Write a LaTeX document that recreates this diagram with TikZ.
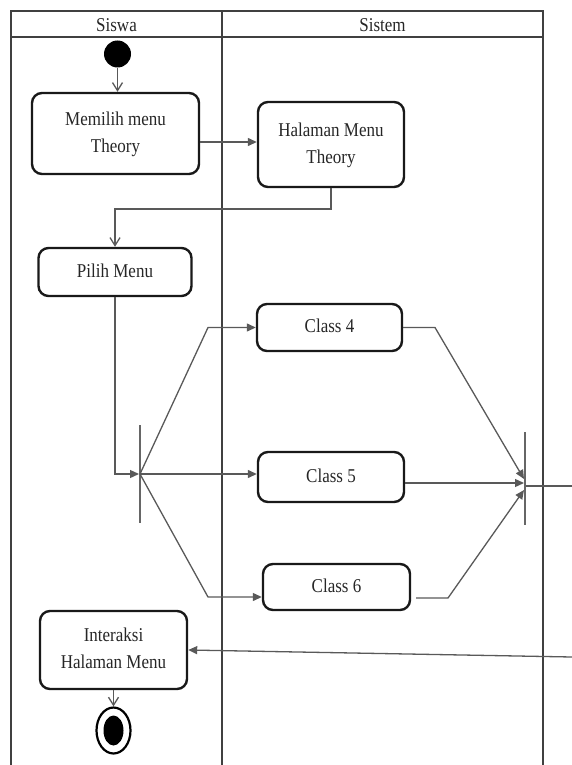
\documentclass[tikz,border=0pt]{standalone}
\usepackage{fontspec}
\setmainfont{Liberation Serif}
\usepackage{graphicx}
\usetikzlibrary{arrows.meta,shapes.geometric,calc}
\newcommand\boxtext[1]{\scalebox{1}[1.15]{\begin{tabular}{@{}c@{}}#1\end{tabular}}}
\begin{document}
\begin{tikzpicture}[x=1pt,y=-1pt,
 act/.style={draw=black!90, line width=2.4pt, rounded corners=10pt, inner sep=0pt,
   font=\fontsize{17}{23.5}\selectfont, text=black!85},
 lane/.style={draw=black!75, line width=1.1pt},
 conn/.style={draw=black!65, line width=1.3pt},
 farr/.style={conn, -{Triangle[length=9pt,width=8pt]}},
 oarr/.style={conn, -{Straight Barb[length=8pt,width=10pt]}},
 bar/.style={fill=black!60, inner sep=0pt, minimum width=1.6pt},
 hdr/.style={font=\fontsize{17}{20}\selectfont, text=black!85, inner sep=0pt, anchor=base}]
\useasboundingbox (0,0) rectangle (572,765);
% swimlanes
\draw[lane] (11,765) -- (11,11) -- (543,11) -- (543,765);
\draw[lane] (11,37) -- (543,37);
\draw[lane] (222,11) -- (222,765);
\node[hdr] (h1) at (116.5,32) {\scalebox{1}[1.15]{Siswa}};
\node[hdr] (h2) at (382.5,32) {\scalebox{1}[1.15]{Sistem}};
% nodes
\node[circle, fill=black, minimum size=27pt, inner sep=0pt] (start) at (117.5,54) {};
\node[act, minimum width=167pt, minimum height=81pt] (mem) at (115.5,133.5) {\boxtext{Memilih menu\\Theory}};
\node[act, minimum width=146pt, minimum height=85pt] (hal) at (331,144.5) {\boxtext{Halaman Menu\\Theory}};
\node[act, minimum width=153pt, minimum height=48pt] (pil) at (115,272) {\boxtext{Pilih Menu}};
\node[bar, minimum height=98pt] (fork) at (140,474) {};
\node[act, minimum width=145pt, minimum height=47pt] (c4) at (329.5,327.5) {\boxtext{Class 4}};
\node[act, minimum width=146pt, minimum height=50pt] (c5) at (331,477) {\boxtext{Class 5}};
\node[act, minimum width=147pt, minimum height=46pt] (c6) at (336.5,587) {\boxtext{Class 6}};
\node[bar, minimum height=93pt] (join) at (525,478.5) {};
\node[act, minimum width=147pt, minimum height=78pt] (inter) at (113.5,650) {\boxtext{Interaksi\\Halaman Menu}};
\node[ellipse, draw=black, line width=2.2pt, minimum width=34pt, minimum height=46pt, inner sep=0pt] (final) at (113.5,730.5) {};
\node[ellipse, fill=black, minimum width=20pt, minimum height=30pt, inner sep=0pt] (finalin) at (final.center) {};
\coordinate (outR) at (572,486);
\coordinate (inR) at (572,657);
% connectors
\draw[oarr] (start) -- (start |- mem.north);
\draw[farr] (mem.east |- 0,142) -- (hal.west |- 0,142);
\draw[oarr] (hal.south) -- (hal.south |- 0,209) -| (pil.north);
\draw[farr] (pil.south) |- (fork.west);
\draw[farr] (fork.center) -- (208,327.5) -- (c4.west);
\draw[farr] (fork.center) -- (c5.west |- fork.center);
\draw[farr] (fork.center) -- (208,597) -- (c6.west |- 0,597);
\draw[farr] (c4.east) -- (435,327.5) -- (join.west |- 0,479);
\draw[farr] (c5.east |- 0,483) -- (join.west |- 0,483);
\draw[farr] ($(c6.east |- 0,598)+(5,0)$) -- (448,598) -- (join.west |- 0,490);
\draw[conn] (join.east |- 0,486) -- (outR);
\draw[farr] (inR) -- (inter.east);
\draw[oarr] (inter.south) -- (final.north);
\end{tikzpicture}
\end{document}
